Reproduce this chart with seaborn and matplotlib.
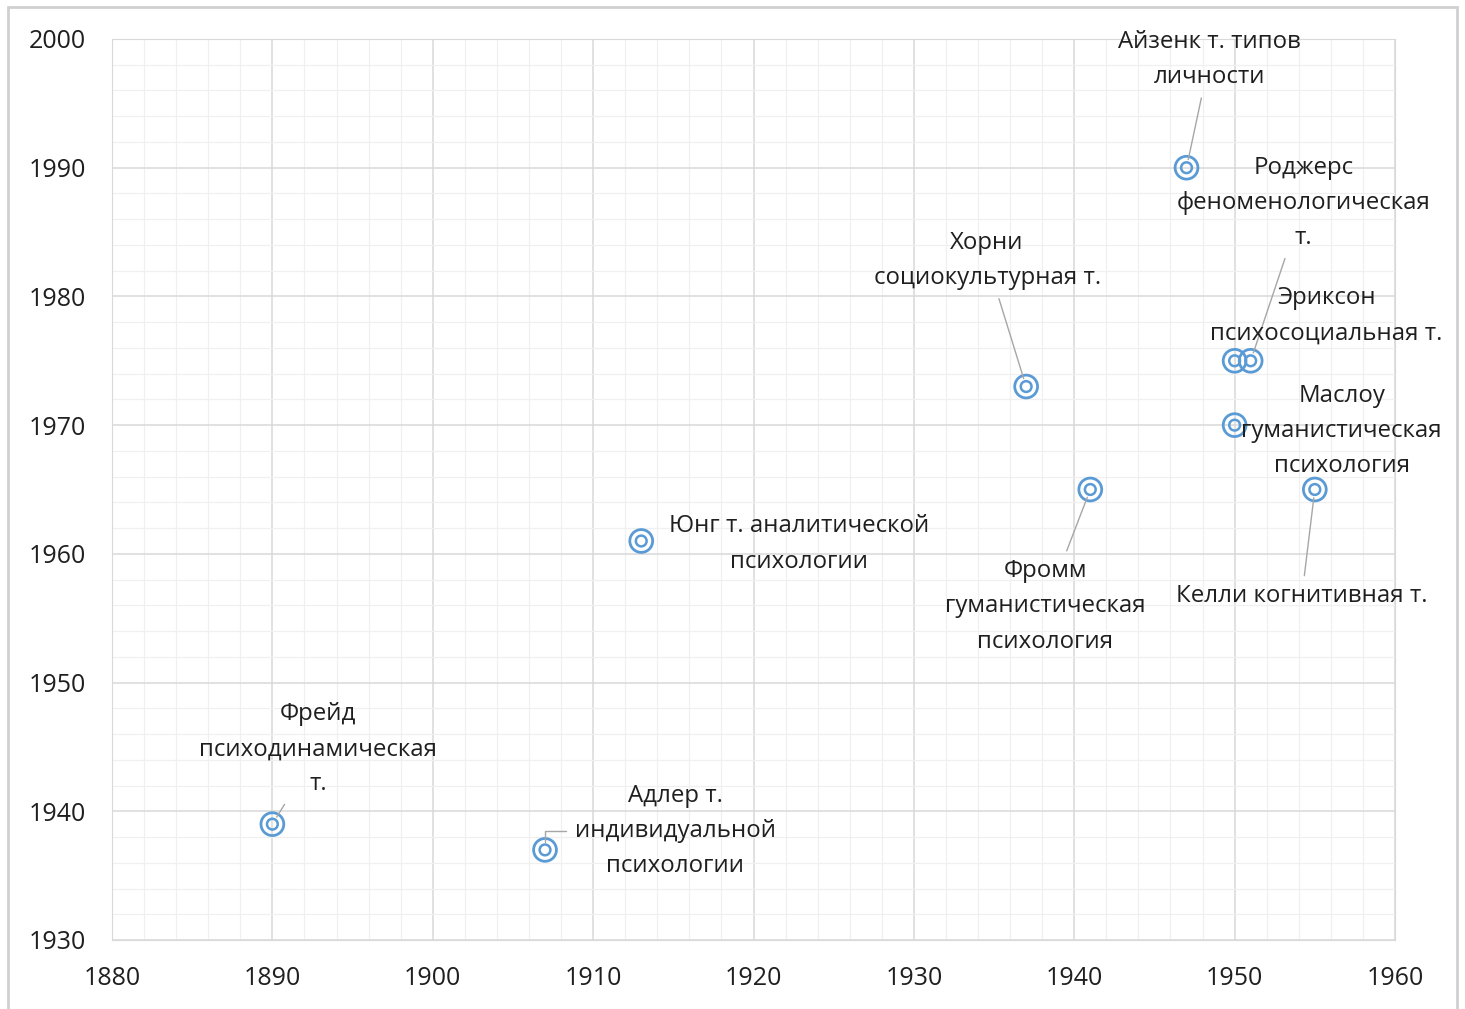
import matplotlib
matplotlib.use("Agg")
import matplotlib.pyplot as plt
from matplotlib.patches import Rectangle
from matplotlib.ticker import MultipleLocator
import seaborn as sns
import pandas as pd

# ================= DATA =================
labels = [
    "Фрейд\nпсиходинамическая\nт.",
    "Адлер т.\nиндивидуальной\nпсихологии",
    "Юнг т. аналитической\nпсихологии",
    "Хорни\nсоциокультурная т.",
    "Фромм\nгуманистическая\nпсихология",
    "Айзенк т. типов\nличности",
    "Роджерс\nфеноменологическая\nт.",
    "Эриксон\nпсихосоциальная т.",
    "Маслоу\nгуманистическая\nпсихология",
    "Келли когнитивная т.",
]
birth_year = [1890, 1907, 1913, 1937, 1941, 1947, 1951, 1950, 1950, 1955]
theory_year = [1939, 1937, 1961, 1973, 1965, 1990, 1975, 1975, 1970, 1965]

# label placement (offset in pixels from the point) and leader style
label_offsets = [(46, 75), (130, 19), (158, -3), (-39, 126), (-45, -117),
                 (23, 108), (53, 158), (92, 45), (107, -6), (-13, -107)]
leader = ["line", "elbow", None, "line", "line", "line", "line", None, None, "line"]

df = pd.DataFrame({"x": birth_year, "y": theory_year, "label": labels})

# ================= STYLE =================
sns.set_style("white")
plt.rcParams["font.family"] = ["Open Sans", "DejaVu Sans"]
BLUE = "#5B9BD5"
TXT = "#1F1F1F"

fig = plt.figure(figsize=(14.65, 10.09), dpi=100)
ax = fig.add_axes([112 / 1465, 1 - 940 / 1009, (1395 - 112) / 1465, (940 - 39) / 1009])

# double-ring markers
sns.scatterplot(data=df, x="x", y="y", ax=ax, s=270, marker="o",
                facecolors="none", edgecolor=BLUE, linewidth=2.0, zorder=3)
sns.scatterplot(data=df, x="x", y="y", ax=ax, s=60, marker="o",
                facecolors="none", edgecolor=BLUE, linewidth=1.8, zorder=3)

ax.set_xlim(1880, 1960)
ax.set_ylim(1930, 2000)
ax.xaxis.set_major_locator(MultipleLocator(10))
ax.yaxis.set_major_locator(MultipleLocator(10))
ax.xaxis.set_minor_locator(MultipleLocator(2))
ax.yaxis.set_minor_locator(MultipleLocator(2))
ax.grid(which="major", color="#D9D9D9", linewidth=1.1)
ax.grid(which="minor", color="#F0F0F0", linewidth=0.9)
ax.set_axisbelow(True)
for sp in ax.spines.values():
    sp.set_color("#D9D9D9")
ax.tick_params(which="both", length=0, labelsize=18, colors=TXT)
ax.tick_params(axis="x", pad=19)
ax.tick_params(axis="y", pad=19)
ax.set_xlabel("")
ax.set_ylabel("")

# ================= LABELS =================
for i, row in df.iterrows():
    dx, dy = label_offsets[i]
    arrow = None
    if leader[i] == "line":
        arrow = dict(arrowstyle="-", color="#A6A6A6", lw=1.0, shrinkA=4, shrinkB=6)
    elif leader[i] == "elbow":
        arrow = dict(arrowstyle="-", color="#A6A6A6", lw=1.0, shrinkA=4, shrinkB=6,
                     connectionstyle="angle,angleA=0,angleB=90,rad=0")
    ax.annotate(row["label"], xy=(row["x"], row["y"]), xytext=(dx, dy),
                textcoords="offset pixels", ha="center", va="center",
                fontsize=17.3, color=TXT, linespacing=1.62,
                arrowprops=arrow, zorder=4)

# outer chart border
fig.patches.append(Rectangle((8 / 1465, -0.01), 1449 / 1465, 1.01 - 7 / 1009,
                             transform=fig.transFigure, fill=False,
                             edgecolor="#D0D0D0", linewidth=2))

fig.savefig("out.png", dpi=100)
